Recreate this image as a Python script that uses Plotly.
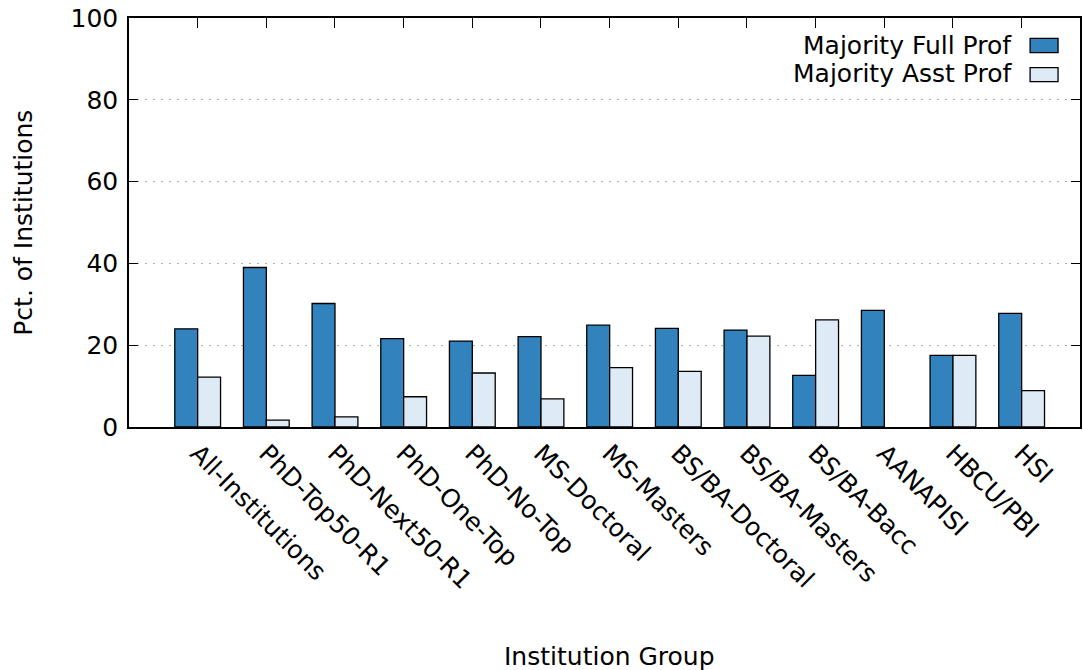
import plotly.graph_objects as go

# Share of institutions in each group where the majority of faculty are
# full professors vs. assistant professors
groups = [
    "All-Institutions", "PhD-Top50-R1", "PhD-Next50-R1", "PhD-One-Top",
    "PhD-No-Top", "MS-Doctoral", "MS-Masters", "BS/BA-Doctoral",
    "BS/BA-Masters", "BS/BA-Bacc", "AANAPISI", "HBCU/PBI", "HSI",
]
majority_full = [24.0, 39.0, 30.2, 21.6, 21.0, 22.1, 24.9, 24.1, 23.7, 12.6, 28.5, 17.5, 27.8]
majority_asst = [12.2, 1.7, 2.5, 7.4, 13.2, 6.9, 14.5, 13.6, 22.2, 26.2, 0.0, 17.5, 8.9]
y_ticks = [0, 20, 40, 60, 80, 100]

series_names = ["Majority Full Prof", "Majority Asst Prof"]
series_colors = ["#3182bd", "#deebf7"]

FONT = "DejaVu Sans"
FS = 25

fig = go.Figure()
for name, vals, col in zip(series_names, [majority_full, majority_asst], series_colors):
    # zero-height bars get no outline
    widths = [1.3 if v > 0 else 0 for v in vals]
    fig.add_trace(go.Bar(
        x=list(range(len(groups))), y=vals, name=name,
        marker=dict(color=col, line=dict(color="black", width=widths)),
        showlegend=False,
    ))

fig.update_layout(
    width=1083, height=670,
    margin=dict(l=129, r=1, t=18, b=243),
    paper_bgcolor="white", plot_bgcolor="white",
    barmode="group", bargap=1/3, bargroupgap=0,
    font=dict(family=FONT, size=FS, color="black"),
)

fig.update_xaxes(
    range=[-1.0, 12.85],
    tickmode="array", tickvals=list(range(len(groups))), ticktext=groups,
    tickangle=45, ticks="inside", ticklen=10, tickwidth=1.2, tickcolor="black",
    showline=True, linecolor="black", linewidth=1.5, mirror="ticks",
    showgrid=False, zeroline=False,
    tickfont=dict(family=FONT, size=FS, color="black"),
)
fig.update_yaxes(
    range=[0, 100],
    tickmode="array", tickvals=y_ticks, ticktext=[str(v) for v in y_ticks],
    ticks="inside", ticklen=9, tickwidth=1.2, tickcolor="black",
    showline=True, linecolor="black", linewidth=1.5, mirror="ticks",
    showgrid=True, gridcolor="#b0b0b0", gridwidth=1, griddash="2px,6px",
    zeroline=False, ticklabelstandoff=4,
    tickfont=dict(family=FONT, size=FS, color="black"),
)

# Axis titles
fig.add_annotation(
    text="Pct. of Institutions", xref="paper", yref="paper",
    x=(23 - 129) / 953, y=0.5, textangle=-90, showarrow=False,
    xanchor="center", yanchor="middle",
    font=dict(family=FONT, size=FS, color="black"),
)
fig.add_annotation(
    text="Institution Group", xref="paper", yref="paper",
    x=(611 - 129) / 953, y=(427 - 656) / 409, showarrow=False,
    xanchor="center", yanchor="middle",
    font=dict(family=FONT, size=FS, color="black"),
)

# Key: label text on the left, swatch on the right
key_rows = [(45, 38.3, 52.7), (74, 67.7, 81.7)]
for (ty, y0, y1), name, col in zip(key_rows, series_names, series_colors):
    fig.add_annotation(
        text=name, xref="paper", yref="paper",
        x=(1016 - 129) / 953, y=(427 - ty) / 409, showarrow=False,
        xanchor="right", yanchor="middle",
        font=dict(family=FONT, size=FS, color="black"),
    )
    fig.add_shape(
        type="rect", xref="paper", yref="paper",
        x0=(1032 - 129) / 953, x1=(1060 - 129) / 953,
        y0=(427 - y1) / 409, y1=(427 - y0) / 409,
        fillcolor=col, line=dict(color="black", width=1.3),
    )

fig.write_html("out.html")
